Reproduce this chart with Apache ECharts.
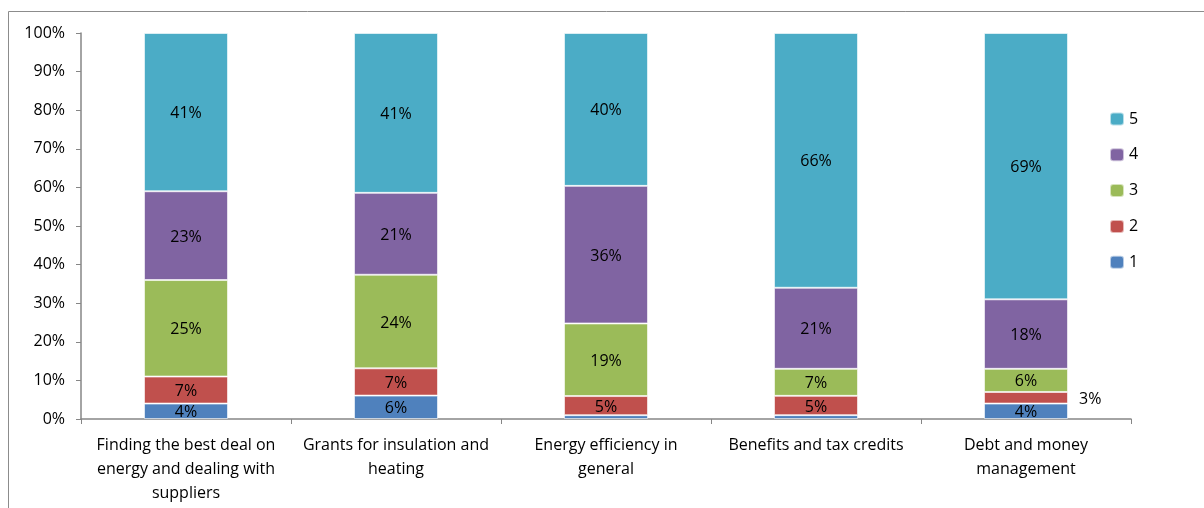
<!DOCTYPE html>
<html>
<head>
<meta charset="utf-8">
<script src="https://cdn.jsdelivr.net/npm/echarts@6/dist/echarts.min.js"></script>
<style>
  html, body { margin: 0; padding: 0; background: #fff; }
  #chart { width: 1204px; height: 508px; }
</style>
</head>
<body>
<div id="chart"></div>
<script>
// Topics and the share of responses at each rating (1-5), in percent
const categories = [
  'Finding the best deal on\nenergy and dealing with\nsuppliers',
  'Grants for insulation and\nheating',
  'Energy efficiency in\ngeneral',
  'Benefits and tax credits',
  'Debt and money\nmanagement'
];
const rating1 = [4, 6, 1, 1, 4];
const rating2 = [7, 7, 5, 5, 3];
const rating3 = [25, 24, 19, 7, 6];
const rating4 = [23, 21, 36, 21, 18];
const rating5 = [41, 41, 40, 66, 69];
// Which values carry no printed label
const hideLabel = { '1': [2, 3] };
const yTicks = ['0%', '10%', '20%', '30%', '40%', '50%', '60%', '70%', '80%', '90%', '100%'];

const seriesDefs = [
  { name: '1', values: rating1, color: '#4F81BD' },
  { name: '2', values: rating2, color: '#C0504D' },
  { name: '3', values: rating3, color: '#9BBB59' },
  { name: '4', values: rating4, color: '#8064A2' },
  { name: '5', values: rating5, color: '#4BACC6' }
];

// Each column is scaled to a 100% total
const totals = categories.map((_, i) => seriesDefs.reduce((s, d) => s + d.values[i], 0));

const font = '"Open Sans", Lato, sans-serif';

const series = seriesDefs.map(def => ({
  name: def.name,
  type: 'bar',
  stack: 'all',
  barWidth: '40%',
  itemStyle: { color: def.color, borderColor: 'rgba(255,255,255,0.6)', borderWidth: 1 },
  data: def.values.map((v, i) => {
    const item = { value: v / totals[i] * 100, raw: v };
    const hidden = (hideLabel[def.name] || []).includes(i);
    if (hidden) item.label = { show: false };
    // The smallest segment of the last column gets its label beside the bar
    if (def.name === '2' && i === 4) {
      item.label = { show: true, position: 'right', distance: 11, color: '#000', offset: [0, 2] };
    }
    return item;
  }),
  label: {
    show: true,
    position: 'inside',
    offset: [0, 1.5],
    color: '#000',
    fontFamily: font,
    fontSize: 16,
    formatter: p => p.data.raw + '%'
  },
  emphasis: { disabled: true }
}));

const chart = echarts.init(document.getElementById('chart'), null, { renderer: 'canvas' });
chart.setOption({
  animation: false,
  textStyle: { fontFamily: font },
  graphic: [{
    type: 'rect',
    shape: { x: 8.5, y: 11.5, width: 1300, height: 600 },
    style: { fill: 'none', stroke: '#8c8c8c', lineWidth: 1 },
    silent: true,
    z: -1
  }],
  grid: { left: 81, right: 73, top: 33, bottom: 89 },
  legend: {
    data: ['5', '4', '3', '2', '1'],
    orient: 'vertical',
    left: 1104,
    top: 106,
    itemWidth: 14,
    itemHeight: 13,
    itemGap: 19.8,
    textStyle: { fontFamily: font, fontSize: 16, color: '#000' },
    selectedMode: false
  },
  xAxis: {
    type: 'category',
    data: categories,
    axisLine: { lineStyle: { color: '#868686', width: 1.5 } },
    axisTick: { show: true, length: 5, alignWithLabel: false, lineStyle: { color: '#868686' } },
    axisLabel: {
      color: '#000', fontFamily: font, fontSize: 16, margin: 14,
      lineHeight: 24, interval: 0
    }
  },
  yAxis: {
    type: 'value',
    min: 0,
    max: 100,
    interval: 10,
    axisLine: { show: true, lineStyle: { color: '#868686', width: 1.5 } },
    axisTick: { show: true, length: 5, lineStyle: { color: '#868686' } },
    splitLine: { show: false },
    axisLabel: {
      color: '#000', fontFamily: font, fontSize: 16, margin: 16,
      formatter: v => yTicks[Math.round(v / 10)]
    }
  },
  series: series
});
</script>
</body>
</html>
